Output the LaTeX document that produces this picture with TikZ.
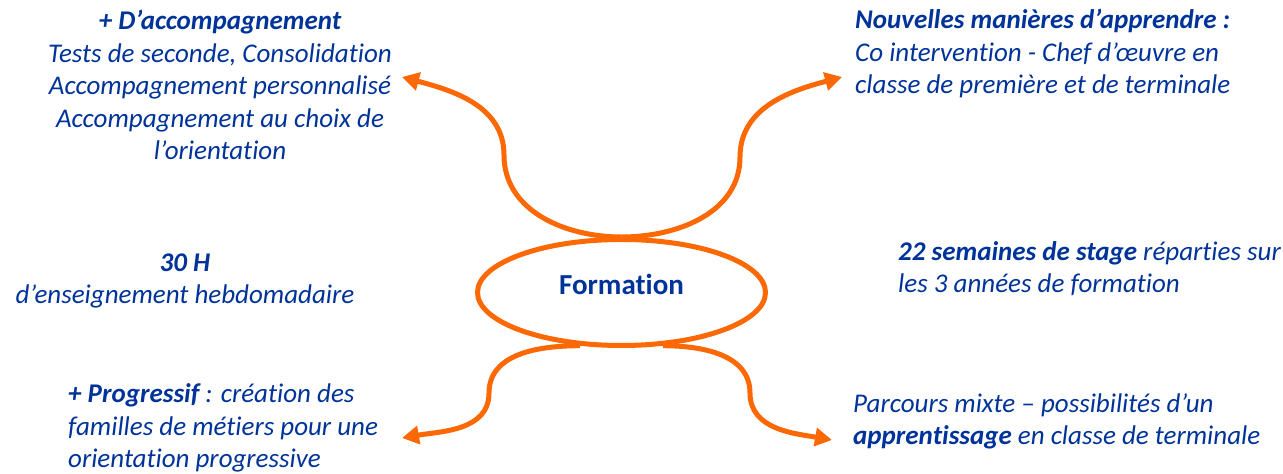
\documentclass[tikz,border=0pt]{standalone}
\usepackage{fontspec}
\setmainfont{Carlito}[Ligatures=CommonOff]
\usepackage{xcolor}
\usetikzlibrary{arrows.meta}
\usetikzlibrary{shapes.geometric}
\definecolor{formblue}{RGB}{0,51,153}
\definecolor{formorange}{RGB}{252,104,4}
\tikzstyle{mytext} = [text=formblue, inner sep=0pt,
font=\fontsize{27}{32.5}\selectfont\itshape]
\tikzstyle{mybubble} = [draw=formorange, line width=5pt, ellipse,
minimum width=288pt, minimum height=106pt, inner sep=0pt, text=formblue,
text height=18pt, text depth=13pt, font=\fontsize{29}{34}\selectfont\bfseries]
\tikzstyle{myarrow} = [draw=formorange, line width=5pt,
-{Triangle[length=17pt,width=18pt]}]

\begin{document}
\begin{tikzpicture}[x=1pt,y=1pt]
        \useasboundingbox (0,0) rectangle (1283,474);
        \node [mybubble] (form) at (621.5,181.5) {Formation};
        % base = last line
        \node [mytext, align=center, anchor=base] (accomp) at (220,314) {%
            \textbf{+ D’accompagnement}\\
            Tests de seconde, Consolidation\\
            Accompagnement personnalisé\\
            Accompagnement au choix de\\
            l’orientation};
        \node [mytext, align=center, anchor=base] (heures) at (185,170) {%
            \textbf{30 H}\\
            d’enseignement hebdomadaire};
        \node [mytext, align=left, anchor=base west] (manieres) at (855,380) {%
            \textbf{Nouvelles manières d’apprendre :}\\
            Co intervention - Chef d’œuvre en\\
            classe de première et de terminale};
        \node [mytext, align=left, anchor=base west] (stage) at (898,181) {%
            \textbf{22 semaines de stage} réparties sur\\
            les 3 années de formation};
        \node [mytext, align=left, anchor=base west] (progressif) at (68,6) {%
            \textbf{+ Progressif} : création des\\
            familles de métiers pour une\\
            orientation progressive};
        \node [mytext, align=left, anchor=base west] (mixte) at (853,29) {%
            Parcours mixte – possibilités d’un\\
            \textbf{apprentissage} en classe de terminale};
        % arrow ends
        \coordinate (tl) at (402,397);
        \coordinate (tr) at (842,397);
        \coordinate (bl) at (402,36);
        \coordinate (br) at (832,34);
        \draw [myarrow] (form.north) to[out=180,in=-90] (504,319) to[out=90,in=-15] (tl);
        \draw [myarrow] (form.north) to[out=0,in=-90] (740,317) to[out=90,in=195] (tr);
        \draw [myarrow] (form.232) to[out=180,in=90] (489,81) to[out=-90,in=10] (bl);
        \draw [myarrow] (form.308) to[out=0,in=90] (750,81) to[out=-90,in=170] (br);
    \end{tikzpicture}
\end{document}
